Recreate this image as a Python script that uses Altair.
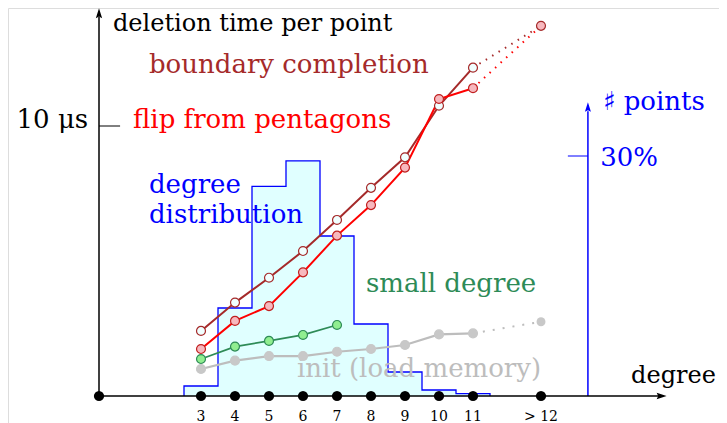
import altair as alt
import pandas as pd

# ---------------- data ----------------
degrees = [3, 4, 5, 6, 7, 8, 9, 10, 11]
boundary_completion = [2.41, 3.46, 4.38, 5.37, 6.52, 7.71, 8.84, 10.75, 12.16]
flip_from_pentagons = [1.74, 2.78, 3.33, 4.58, 5.94, 7.07, 8.46, 11.00, 11.40]
small_degree_degrees = [3, 4, 5, 6, 7]
small_degree = [1.37, 1.83, 2.04, 2.26, 2.63]
init_load_memory = [1.00, 1.31, 1.48, 1.48, 1.64, 1.74, 1.89, 2.28, 2.32]
beyond_degree = 13          # the "> 12" bucket
boundary_beyond = 13.71
flip_beyond = 13.71
init_beyond = 2.75
hist_percent = [1.25, 11.0, 26.2, 29.4, 20.0, 9.0, 3.0, 0.75, 0.3]
axis_dot_degrees = [0, 3, 4, 5, 6, 7, 8, 9, 10, 11, 13]
tick_degrees = [3, 4, 5, 6, 7, 8, 9, 10, 11, 13]
tick_labels = ["3", "4", "5", "6", "7", "8", "9", "10", "11", "> 12"]

# ---------------- scales ----------------
W, H = 711, 415
X_DOM = [-2.6765, 18.2353]
T_DOM = [-1.0, 14.3704]      # microseconds
P_DOM = [-3.375, 48.5]       # percent of points

FONT = "DejaVu Serif"
BROWN = "#a52a2a"
RED = "#ff0000"
GREEN = "#2e8b57"
GRAY = "#bdbdbd"
BLUE = "#0000ff"


def xq(f="x"):
    return alt.X(f"{f}:Q", scale=alt.Scale(domain=X_DOM, nice=False, zero=False), axis=None)


def tq(f="y"):
    return alt.Y(f"{f}:Q", scale=alt.Scale(domain=T_DOM, nice=False, zero=False), axis=None)


def pq(f="y"):
    return alt.Y(f"{f}:Q", scale=alt.Scale(domain=P_DOM, nice=False, zero=False), axis=None)


# ---------------- histogram ----------------
hist_df = pd.DataFrame({
    "x": [d - 0.5 for d in degrees],
    "x2": [d + 0.5 for d in degrees],
    "y": hist_percent,
})
hist_fill = alt.Chart(hist_df).mark_rect(color="#e0ffff").encode(
    x=xq(), x2="x2:Q", y=pq(), y2=alt.datum(0)
)
step_x = [degrees[0] - 0.5] + [d - 0.5 for d in degrees] + [degrees[-1] + 0.5, degrees[-1] + 0.5]
step_y = [0] + hist_percent + [hist_percent[-1], 0]
step_df = pd.DataFrame({"x": step_x, "y": step_y, "o": list(range(len(step_x)))})
hist_line = alt.Chart(step_df).mark_line(
    color=BLUE, strokeWidth=1.3, interpolate="step-after"
).encode(x=xq(), y=pq(), order="o:Q")

# right (percent) axis
raxis_df = pd.DataFrame({"x": [14.38], "y": [0], "y2": [35.6]})
raxis = alt.Chart(raxis_df).mark_rule(color=BLUE, strokeWidth=1.5).encode(
    x=xq(), y=pq(), y2="y2:Q"
)
rtick_df = pd.DataFrame({"x": [13.79], "x2": [14.38], "y": [30]})
rtick = alt.Chart(rtick_df).mark_rule(color=BLUE, strokeWidth=1).encode(
    x=xq(), x2="x2:Q", y=pq()
)
rarrow = alt.Chart(pd.DataFrame({"x": [14.38], "y": [36.1]})).mark_point(
    shape="M0,-1L-0.6,0.9L0,0.6L0.6,0.9Z", size=100, filled=True, color=BLUE, opacity=1
).encode(x=xq(), y=pq())

# ---------------- black axes ----------------
laxis = alt.Chart(pd.DataFrame({"x": [0], "y": [0], "y2": [14.05]})).mark_rule(
    color="black", strokeWidth=1.5
).encode(x=xq(), y=tq(), y2="y2:Q")
baxis = alt.Chart(pd.DataFrame({"x": [0], "x2": [16.5], "y": [0]})).mark_rule(
    color="black", strokeWidth=1.5
).encode(x=xq(), x2="x2:Q", y=tq())
ltick = alt.Chart(pd.DataFrame({"x": [0], "x2": [0.62], "y": [10]})).mark_rule(
    color="black", strokeWidth=1
).encode(x=xq(), x2="x2:Q", y=tq())
uarrow = alt.Chart(pd.DataFrame({"x": [0], "y": [14.17]})).mark_point(
    shape="M0,-1L-0.6,0.9L0,0.6L0.6,0.9Z", size=110, filled=True, color="black", opacity=1
).encode(x=xq(), y=tq())
rarrow_x = alt.Chart(pd.DataFrame({"x": [16.54], "y": [0]})).mark_point(
    shape="M1,0L-0.9,-0.6L-0.6,0L-0.9,0.6Z", size=110, filled=True, color="black", opacity=1
).encode(x=xq(), y=tq())
axis_dots = alt.Chart(pd.DataFrame({"x": axis_dot_degrees, "y": [0] * len(axis_dot_degrees)})).mark_point(
    shape="circle", size=105, filled=True, color="black", opacity=1
).encode(x=xq(), y=tq())


# ---------------- series ----------------
def series(xs, ys, line_color, fill, stroke, width=2.0):
    df = pd.DataFrame({"x": xs, "y": ys})
    base = alt.Chart(df)
    ln = base.mark_line(color=line_color, strokeWidth=width).encode(x=xq(), y=tq())
    pt = base.mark_point(
        shape="circle", size=80, filled=True, fill=fill, stroke=stroke, strokeWidth=1.2, opacity=1
    ).encode(x=xq(), y=tq())
    return ln, pt


def dotted(x0, y0, x1, y1, color, dash):
    df = pd.DataFrame({"x": [x0, x1], "y": [y0, y1]})
    return alt.Chart(df).mark_line(color=color, strokeWidth=2, strokeDash=dash).encode(x=xq(), y=tq())


gray_ln, gray_pt = series(degrees, init_load_memory, GRAY, "#c8c8c8", "#c8c8c8", 2.2)
gray_dot = dotted(degrees[-1], init_load_memory[-1], beyond_degree, init_beyond, GRAY, [2, 8])
gray_end = alt.Chart(pd.DataFrame({"x": [beyond_degree], "y": [init_beyond]})).mark_point(
    shape="circle", size=80, filled=True, color="#c8c8c8", opacity=1
).encode(x=xq(), y=tq())

green_ln, green_pt = series(small_degree_degrees, small_degree, GREEN, "#90ee90", GREEN, 1.8)
brown_ln, brown_pt = series(degrees, boundary_completion, BROWN, "#f0ffff", BROWN, 2.0)
red_ln, red_pt = series(degrees, flip_from_pentagons, RED, "#f7b8be", "#c02020", 2.0)
brown_dot = dotted(degrees[-1], boundary_completion[-1], beyond_degree, boundary_beyond, BROWN, [1.5, 6])
red_dot = dotted(degrees[-1], flip_from_pentagons[-1], beyond_degree, flip_beyond, RED, [1.5, 6])
end_pt = alt.Chart(pd.DataFrame({"x": [beyond_degree], "y": [flip_beyond]})).mark_point(
    shape="circle", size=80, filled=True, fill="#f7b8be", stroke=BROWN, strokeWidth=1.2, opacity=1
).encode(x=xq(), y=tq())

# ---------------- texts ----------------
label_text = ["boundary completion", "flip from pentagons",
              "degree", "distribution", "small degree", "init (load memory)",
              "\u266f points", "30%"]
label_x = [1.47, 1.0, 1.47, 1.47, 7.85, 5.82, 14.82, 14.74]
label_y = [11.96, 9.93, 7.52, 6.41, 3.85, 0.70, 10.59, 8.52]
label_color = [BROWN, RED, BLUE, BLUE, GREEN, GRAY, BLUE, BLUE]
lab_df = pd.DataFrame({"x": label_x, "y": label_y, "t": label_text, "c": label_color})
labels = alt.Chart(lab_df).mark_text(
    align="left", baseline="alphabetic", font=FONT, fontSize=26
).encode(x=xq(), y=tq(), text="t:N", color=alt.Color("c:N", scale=None))

small_df = pd.DataFrame({"x": [0.41, 15.65], "y": [13.52, 0.48],
                         "t": ["deletion time per point", "degree"]})
small_labels = alt.Chart(small_df).mark_text(
    align="left", baseline="alphabetic", font=FONT, fontSize=24, color="black"
).encode(x=xq(), y=tq(), text="t:N")

mu_lab = alt.Chart(pd.DataFrame({"x": [-0.32], "y": [9.93], "t": ["10 \u03bcs"]})).mark_text(
    align="right", baseline="alphabetic", font=FONT, fontSize=26, color="black"
).encode(x=xq(), y=tq(), text="t:N")

tick_df = pd.DataFrame({"x": tick_degrees, "y": [-0.926] * len(tick_degrees), "t": tick_labels})
ticks = alt.Chart(tick_df).mark_text(
    align="center", baseline="alphabetic", font=FONT, fontSize=14, color="black"
).encode(x=xq(), y=tq(), text="t:N")

chart = alt.layer(
    hist_fill, hist_line, labels, small_labels, mu_lab, ticks,
    raxis, rtick, rarrow,
    laxis, baxis, ltick, uarrow, rarrow_x,
    gray_dot, gray_ln, gray_pt, gray_end,
    green_ln, green_pt,
    brown_dot, red_dot, brown_ln, red_ln, brown_pt, red_pt, end_pt,
    axis_dots,
).resolve_scale(y="independent").properties(
    width=W, height=H, autosize=alt.AutoSizeParams(type="none"),
    padding={"left": 0, "right": 0, "top": 0, "bottom": 0},
).configure_view(stroke=None).configure(background="white")

chart.save("out.html", embed_options={"renderer": "svg", "actions": False})
